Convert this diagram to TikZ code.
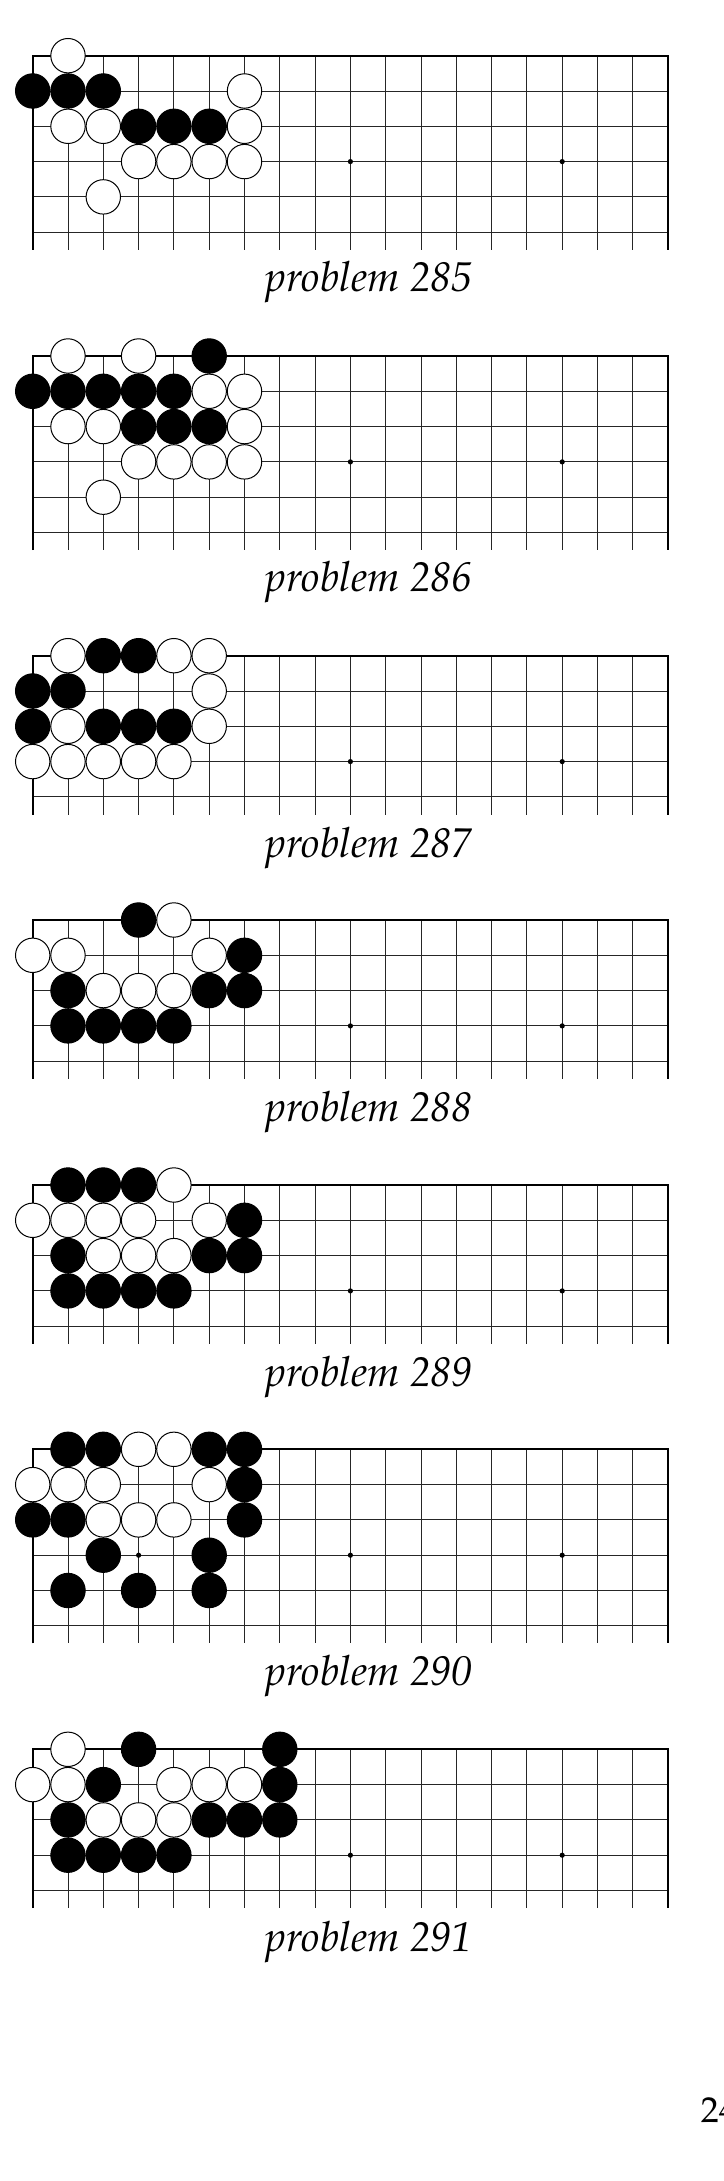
\documentclass[tikz,border=0pt]{standalone}
\usepackage[T1]{fontenc}
\usepackage{mathpazo}
\usepackage{tikz}
\tikzset{
  bst/.style={circle,draw=black,fill=black,line width=0.25pt,inner sep=0pt,minimum size=8.6pt},
  wst/.style={circle,draw=black,fill=white,line width=0.25pt,inner sep=0pt,minimum size=8.6pt},
  hoshi/.style={circle,fill=black,inner sep=0pt,minimum size=1.3pt},
  gridline/.style={draw=black!85,line width=0.22pt},
  rim/.style={draw=black,line width=0.5pt},
  board/.style={x=8.825pt,y=-8.825pt},
}
\tikzset{probtitle/.style={font=\fontsize{10.4}{12}\selectfont\itshape,inner sep=0pt},
  pagenum/.style={font=\fontsize{9}{10}\selectfont,inner sep=0pt}}

\begin{document}
\begin{tikzpicture}[x=0.25pt,y=-0.25pt]
\useasboundingbox (0,0) rectangle (724,2181);
% problem 285
\begin{scope}[shift={(32.7,55.7)},board]
\foreach \c in {0,...,18} \draw[gridline] (\c,0) -- (\c,5.5);
\foreach \r in {1,...,5} \draw[gridline] (0,\r) -- (18,\r);
\draw[rim] (0,5.5) -- (0,0) -- (18,0) -- (18,5.5);
\node[hoshi] (a285) at (3,3) {};
\node[hoshi] (b285) at (9,3) {};
\node[hoshi] (c285) at (15,3) {};
\node[wst] (p285w1) at (1,0) {};
\node[bst] (p285b1) at (0,1) {};
\node[bst] (p285b2) at (1,1) {};
\node[bst] (p285b3) at (2,1) {};
\node[wst] (p285w2) at (6,1) {};
\node[wst] (p285w3) at (1,2) {};
\node[wst] (p285w4) at (2,2) {};
\node[bst] (p285b4) at (3,2) {};
\node[bst] (p285b5) at (4,2) {};
\node[bst] (p285b6) at (5,2) {};
\node[wst] (p285w5) at (6,2) {};
\node[wst] (p285w6) at (3,3) {};
\node[wst] (p285w7) at (4,3) {};
\node[wst] (p285w8) at (5,3) {};
\node[wst] (p285w9) at (6,3) {};
\node[wst] (p285w10) at (2,4) {};
\end{scope}
\node[probtitle,anchor=base] (t285) at (369,292) {problem 285};
% problem 286
\begin{scope}[shift={(32.7,356)},board]
\foreach \c in {0,...,18} \draw[gridline] (\c,0) -- (\c,5.5);
\foreach \r in {1,...,5} \draw[gridline] (0,\r) -- (18,\r);
\draw[rim] (0,5.5) -- (0,0) -- (18,0) -- (18,5.5);
\node[hoshi] (a286) at (3,3) {};
\node[hoshi] (b286) at (9,3) {};
\node[hoshi] (c286) at (15,3) {};
\node[wst] (p286w1) at (1,0) {};
\node[wst] (p286w2) at (3,0) {};
\node[bst] (p286b1) at (5,0) {};
\node[bst] (p286b2) at (0,1) {};
\node[bst] (p286b3) at (1,1) {};
\node[bst] (p286b4) at (2,1) {};
\node[bst] (p286b5) at (3,1) {};
\node[bst] (p286b6) at (4,1) {};
\node[wst] (p286w3) at (5,1) {};
\node[wst] (p286w4) at (6,1) {};
\node[wst] (p286w5) at (1,2) {};
\node[wst] (p286w6) at (2,2) {};
\node[bst] (p286b7) at (3,2) {};
\node[bst] (p286b8) at (4,2) {};
\node[bst] (p286b9) at (5,2) {};
\node[wst] (p286w7) at (6,2) {};
\node[wst] (p286w8) at (3,3) {};
\node[wst] (p286w9) at (4,3) {};
\node[wst] (p286w10) at (5,3) {};
\node[wst] (p286w11) at (6,3) {};
\node[wst] (p286w12) at (2,4) {};
\end{scope}
\node[probtitle,anchor=base] (t286) at (369,592) {problem 286};
% problem 287
\begin{scope}[shift={(32.7,655.7)},board]
\foreach \c in {0,...,18} \draw[gridline] (\c,0) -- (\c,4.5);
\foreach \r in {1,...,4} \draw[gridline] (0,\r) -- (18,\r);
\draw[rim] (0,4.5) -- (0,0) -- (18,0) -- (18,4.5);
\node[hoshi] (a287) at (3,3) {};
\node[hoshi] (b287) at (9,3) {};
\node[hoshi] (c287) at (15,3) {};
\node[wst] (p287w1) at (1,0) {};
\node[bst] (p287b1) at (2,0) {};
\node[bst] (p287b2) at (3,0) {};
\node[wst] (p287w2) at (4,0) {};
\node[wst] (p287w3) at (5,0) {};
\node[bst] (p287b3) at (0,1) {};
\node[bst] (p287b4) at (1,1) {};
\node[wst] (p287w4) at (5,1) {};
\node[bst] (p287b5) at (0,2) {};
\node[wst] (p287w5) at (1,2) {};
\node[bst] (p287b6) at (2,2) {};
\node[bst] (p287b7) at (3,2) {};
\node[bst] (p287b8) at (4,2) {};
\node[wst] (p287w6) at (5,2) {};
\node[wst] (p287w7) at (0,3) {};
\node[wst] (p287w8) at (1,3) {};
\node[wst] (p287w9) at (2,3) {};
\node[wst] (p287w10) at (3,3) {};
\node[wst] (p287w11) at (4,3) {};
\end{scope}
\node[probtitle,anchor=base] (t287) at (369,857) {problem 287};
% problem 288
\begin{scope}[shift={(32.7,920)},board]
\foreach \c in {0,...,18} \draw[gridline] (\c,0) -- (\c,4.5);
\foreach \r in {1,...,4} \draw[gridline] (0,\r) -- (18,\r);
\draw[rim] (0,4.5) -- (0,0) -- (18,0) -- (18,4.5);
\node[hoshi] (a288) at (3,3) {};
\node[hoshi] (b288) at (9,3) {};
\node[hoshi] (c288) at (15,3) {};
\node[bst] (p288b1) at (3,0) {};
\node[wst] (p288w1) at (4,0) {};
\node[wst] (p288w2) at (0,1) {};
\node[wst] (p288w3) at (1,1) {};
\node[wst] (p288w4) at (5,1) {};
\node[bst] (p288b2) at (6,1) {};
\node[bst] (p288b3) at (1,2) {};
\node[wst] (p288w5) at (2,2) {};
\node[wst] (p288w6) at (3,2) {};
\node[wst] (p288w7) at (4,2) {};
\node[bst] (p288b4) at (5,2) {};
\node[bst] (p288b5) at (6,2) {};
\node[bst] (p288b6) at (1,3) {};
\node[bst] (p288b7) at (2,3) {};
\node[bst] (p288b8) at (3,3) {};
\node[bst] (p288b9) at (4,3) {};
\end{scope}
\node[probtitle,anchor=base] (t288) at (369,1121) {problem 288};
% problem 289
\begin{scope}[shift={(32.7,1185)},board]
\foreach \c in {0,...,18} \draw[gridline] (\c,0) -- (\c,4.5);
\foreach \r in {1,...,4} \draw[gridline] (0,\r) -- (18,\r);
\draw[rim] (0,4.5) -- (0,0) -- (18,0) -- (18,4.5);
\node[hoshi] (a289) at (3,3) {};
\node[hoshi] (b289) at (9,3) {};
\node[hoshi] (c289) at (15,3) {};
\node[bst] (p289b1) at (1,0) {};
\node[bst] (p289b2) at (2,0) {};
\node[bst] (p289b3) at (3,0) {};
\node[wst] (p289w1) at (4,0) {};
\node[wst] (p289w2) at (0,1) {};
\node[wst] (p289w3) at (1,1) {};
\node[wst] (p289w4) at (2,1) {};
\node[wst] (p289w5) at (3,1) {};
\node[wst] (p289w6) at (5,1) {};
\node[bst] (p289b4) at (6,1) {};
\node[bst] (p289b5) at (1,2) {};
\node[wst] (p289w7) at (2,2) {};
\node[wst] (p289w8) at (3,2) {};
\node[wst] (p289w9) at (4,2) {};
\node[bst] (p289b6) at (5,2) {};
\node[bst] (p289b7) at (6,2) {};
\node[bst] (p289b8) at (1,3) {};
\node[bst] (p289b9) at (2,3) {};
\node[bst] (p289b10) at (3,3) {};
\node[bst] (p289b11) at (4,3) {};
\end{scope}
\node[probtitle,anchor=base] (t289) at (369,1386) {problem 289};
% problem 290
\begin{scope}[shift={(32.7,1449.3)},board]
\foreach \c in {0,...,18} \draw[gridline] (\c,0) -- (\c,5.5);
\foreach \r in {1,...,5} \draw[gridline] (0,\r) -- (18,\r);
\draw[rim] (0,5.5) -- (0,0) -- (18,0) -- (18,5.5);
\node[hoshi] (a290) at (3,3) {};
\node[hoshi] (b290) at (9,3) {};
\node[hoshi] (c290) at (15,3) {};
\node[bst] (p290b1) at (1,0) {};
\node[bst] (p290b2) at (2,0) {};
\node[wst] (p290w1) at (3,0) {};
\node[wst] (p290w2) at (4,0) {};
\node[bst] (p290b3) at (5,0) {};
\node[bst] (p290b4) at (6,0) {};
\node[wst] (p290w3) at (0,1) {};
\node[wst] (p290w4) at (1,1) {};
\node[wst] (p290w5) at (2,1) {};
\node[wst] (p290w6) at (5,1) {};
\node[bst] (p290b5) at (6,1) {};
\node[bst] (p290b6) at (0,2) {};
\node[bst] (p290b7) at (1,2) {};
\node[wst] (p290w7) at (2,2) {};
\node[wst] (p290w8) at (3,2) {};
\node[wst] (p290w9) at (4,2) {};
\node[bst] (p290b8) at (6,2) {};
\node[bst] (p290b9) at (2,3) {};
\node[bst] (p290b10) at (5,3) {};
\node[bst] (p290b11) at (1,4) {};
\node[bst] (p290b12) at (3,4) {};
\node[bst] (p290b13) at (5,4) {};
\end{scope}
\node[probtitle,anchor=base] (t290) at (369,1685) {problem 290};
% problem 291
\begin{scope}[shift={(32.7,1749.3)},board]
\foreach \c in {0,...,18} \draw[gridline] (\c,0) -- (\c,4.5);
\foreach \r in {1,...,4} \draw[gridline] (0,\r) -- (18,\r);
\draw[rim] (0,4.5) -- (0,0) -- (18,0) -- (18,4.5);
\node[hoshi] (a291) at (3,3) {};
\node[hoshi] (b291) at (9,3) {};
\node[hoshi] (c291) at (15,3) {};
\node[wst] (p291w1) at (1,0) {};
\node[bst] (p291b1) at (3,0) {};
\node[bst] (p291b2) at (7,0) {};
\node[wst] (p291w2) at (0,1) {};
\node[wst] (p291w3) at (1,1) {};
\node[bst] (p291b3) at (2,1) {};
\node[wst] (p291w4) at (4,1) {};
\node[wst] (p291w5) at (5,1) {};
\node[wst] (p291w6) at (6,1) {};
\node[bst] (p291b4) at (7,1) {};
\node[bst] (p291b5) at (1,2) {};
\node[wst] (p291w7) at (2,2) {};
\node[wst] (p291w8) at (3,2) {};
\node[wst] (p291w9) at (4,2) {};
\node[bst] (p291b6) at (5,2) {};
\node[bst] (p291b7) at (6,2) {};
\node[bst] (p291b8) at (7,2) {};
\node[bst] (p291b9) at (1,3) {};
\node[bst] (p291b10) at (2,3) {};
\node[bst] (p291b11) at (3,3) {};
\node[bst] (p291b12) at (4,3) {};
\end{scope}
\node[probtitle,anchor=base] (t291) at (369,1951) {problem 291};
\node[pagenum,anchor=base west] (pg) at (700,2122.7) {24};
\end{tikzpicture}
\end{document}
